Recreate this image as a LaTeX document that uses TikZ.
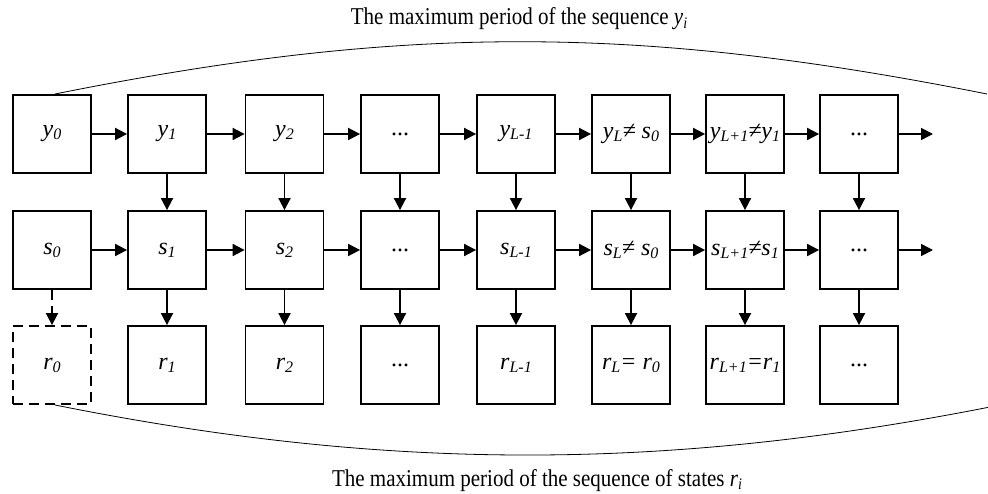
\documentclass[tikz,border=0pt]{standalone}
\usepackage{fontspec}
\setmainfont{Liberation Serif}
\usetikzlibrary{arrows.meta}
\newcommand{\lsb}[1]{\raisebox{-3pt}{\fontsize{16}{16}\selectfont #1}}
\newcommand{\tsb}[1]{\raisebox{-3pt}{\fontsize{14}{14}\selectfont\itshape #1}}
\begin{document}
\begin{tikzpicture}[x=1pt,y=-1pt,
  cell/.style={draw, line width=1.8pt, minimum size=78pt, inner sep=0pt,
    font=\fontsize{24}{24}\selectfont\itshape},
  dcell/.style={cell, dash pattern=on 10pt off 6pt},
  arr/.style={line width=1.8pt, -{Triangle[length=12pt,width=12pt]}},
  darr/.style={arr, dash pattern=on 10pt off 6pt},
  arcline/.style={line width=0.8pt},
  title/.style={font=\fontsize{21}{21}\selectfont, anchor=base, inner sep=0pt}]
\clip (0,0) rectangle (988,494);
\foreach \c/\x/\ty/\ts in {
  1/52/{y\lsb{0}}/{s\lsb{0}},
  2/167/{y\lsb{1}}/{s\lsb{1}},
  3/284.5/{y\lsb{2}}/{s\lsb{2}},
  4/400/{\upshape...}/{\upshape...},
  5/516/{y\lsb{L-1}}/{s\lsb{L-1}},
  6/631/{y\lsb{L}≠ s\lsb{0}}/{s\lsb{L}≠ s\lsb{0}},
  7/745/{y\lsb{L+1}≠y\lsb{1}}/{s\lsb{L+1}≠s\lsb{1}},
  8/859/{\upshape...}/{\upshape...}}
{
  \node[cell] (y\c) at (\x,134) {\ty};
  \node[cell] (s\c) at (\x,250) {\ts};
}
\node[dcell] (r1) at (52,365) {r\lsb{0}};
\foreach \c/\x/\tr in {
  2/167/{r\lsb{1}},
  3/284.5/{r\lsb{2}},
  4/400/{\upshape...},
  5/516/{r\lsb{L-1}},
  6/631/{r\lsb{L}= r\lsb{0}},
  7/745/{r\lsb{L+1}=r\lsb{1}},
  8/859/{\upshape...}}
{
  \node[cell] (r\c) at (\x,365) {\tr};
}
\foreach \a/\b in {1/2,2/3,3/4,4/5,5/6,6/7,7/8}{
  \draw[arr] (y\a) -- (y\b);
  \draw[arr] (s\a) -- (s\b);
}
\coordinate (ye) at (933,134);
\coordinate (se) at (933,250);
\draw[arr] (y8) -- (ye);
\draw[arr] (s8) -- (se);
\foreach \c in {2,...,8}{
  \draw[arr] (y\c) -- (s\c);
  \draw[arr] (s\c) -- (r\c);
}
\draw[darr] (s1) -- (r1);
\coordinate (ta) at (55,94);
\coordinate (tb) at (987,94);
\coordinate (ba) at (55,405);
\coordinate (bb) at (1000,405);
\draw[arcline] (ta) .. controls (403,24.3) and (637,24.3) .. (tb);
\draw[arcline] (ba) .. controls (388,471.7) and (667,471.7) .. (bb);
\node[title] (t1) at (519,25) {\scalebox{1}[1.15]{The maximum period of the sequence \textit{y}\tsb{i}}};
\node[title] (t2) at (537,486) {\scalebox{1}[1.15]{The maximum period of the sequence of states \textit{r}\tsb{i}}};
\end{tikzpicture}
\end{document}
